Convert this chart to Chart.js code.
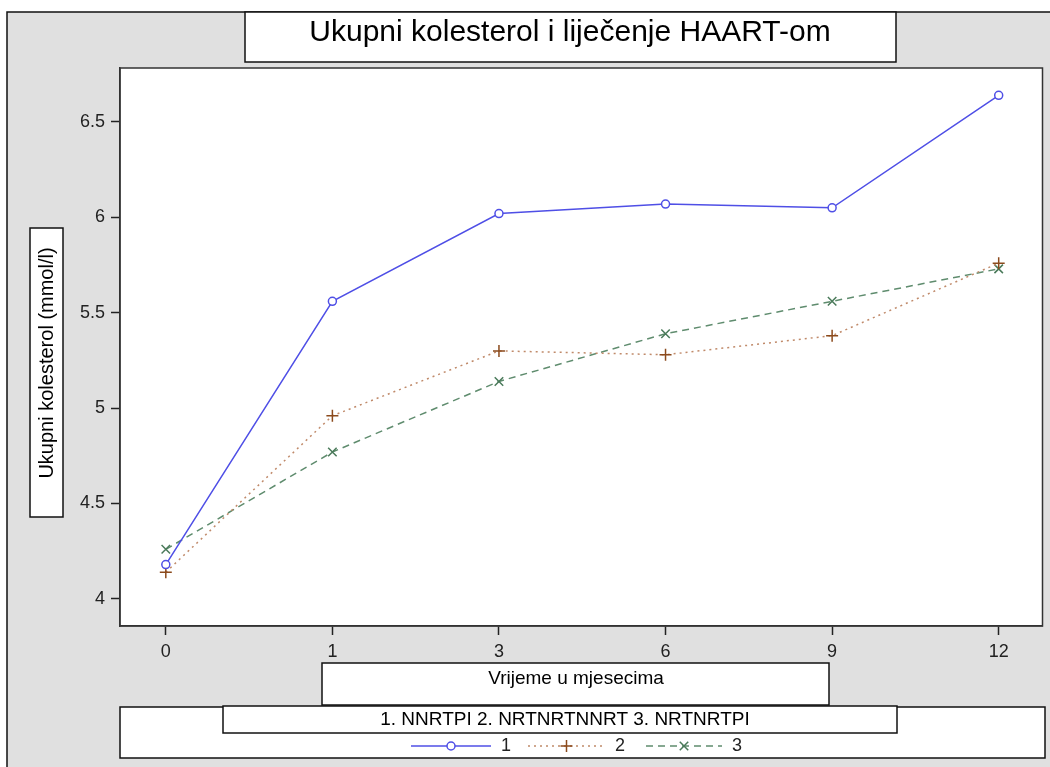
<!DOCTYPE html>
<html>
<head>
<meta charset="utf-8">
<script src="https://cdn.jsdelivr.net/npm/chart.js@4/dist/chart.umd.min.js"></script>
<style>
  html, body { margin: 0; padding: 0; background: #fff; }
  #wrap { width: 1050px; height: 767px; position: relative; }
</style>
</head>
<body>
<div id="wrap"><canvas id="chart" width="1050" height="767"></canvas></div>
<script>
const months = ["0", "1", "3", "6", "9", "12"];
const yTicks = [4, 4.5, 5, 5.5, 6, 6.5];
const group1 = [4.18, 5.56, 6.02, 6.07, 6.05, 6.64];
const group2 = [4.14, 4.96, 5.30, 5.28, 5.38, 5.76];
const group3 = [4.26, 4.77, 5.14, 5.39, 5.56, 5.73];
const groupNames = ["1", "2", "3"];

const font = "'Liberation Sans', Arial, sans-serif";
const blue = "#4f4fe6";
const brown = "#c08a6a";
const brownMark = "#8b4a1c";
const green = "#5f8c6e";
const greenMark = "#4a7a5a";

const toPoints = (arr) => arr.map((v, i) => ({ x: i, y: v }));

function box(ctx, x, y, w, h) {
  ctx.save();
  ctx.fillStyle = "#fff";
  ctx.fillRect(x, y, w, h);
  ctx.strokeStyle = "#111";
  ctx.lineWidth = 1.5;
  ctx.strokeRect(x, y, w, h);
  ctx.restore();
}

const decor = {
  id: "decor",
  beforeDraw(chart) {
    const ctx = chart.ctx;
    const a = chart.chartArea;
    ctx.save();
    ctx.fillStyle = "#fff";
    ctx.fillRect(0, 0, 1050, 767);
    ctx.fillStyle = "#e0e0e0";
    ctx.fillRect(7, 12, 1060, 770);
    ctx.strokeStyle = "#111";
    ctx.lineWidth = 1.5;
    ctx.strokeRect(7, 12, 1060, 770);
    ctx.fillStyle = "#fff";
    ctx.fillRect(a.left, a.top, a.right - a.left, a.bottom - a.top);
    ctx.restore();
  },
  afterDraw(chart) {
    const ctx = chart.ctx;
    const a = chart.chartArea;
    ctx.save();
    ctx.strokeStyle = "#333";
    ctx.lineWidth = 1.5;
    ctx.strokeRect(a.left, a.top, a.right - a.left, a.bottom - a.top);

    // title
    box(ctx, 245, 12, 651, 50);
    ctx.fillStyle = "#000";
    ctx.textAlign = "center";
    ctx.textBaseline = "middle";
    ctx.font = "30px " + font;
    ctx.fillText("Ukupni kolesterol i liječenje HAART-om", 570, 33);

    // y axis title
    box(ctx, 30, 228, 33, 289);
    ctx.save();
    ctx.translate(47, 363);
    ctx.rotate(-Math.PI / 2);
    ctx.font = "20px " + font;
    ctx.fillText("Ukupni kolesterol (mmol/l)", 0, 0);
    ctx.restore();

    // x axis title
    box(ctx, 322, 663, 507, 42);
    ctx.font = "19px " + font;
    ctx.fillText("Vrijeme u mjesecima", 576, 679);

    // legend
    box(ctx, 120, 707, 925, 51);
    box(ctx, 223, 706, 674, 27);
    ctx.font = "19px " + font;
    ctx.fillText("1. NNRTPI 2. NRTNRTNNRT 3. NRTNRTPI", 565, 720);

    const ly = 746;
    const items = [
      { x0: 411, x1: 491, color: blue, mark: blue, dash: [], style: "circle" },
      { x0: 528, x1: 605, color: brown, mark: brownMark, dash: [2, 4], style: "cross" },
      { x0: 646, x1: 722, color: green, mark: greenMark, dash: [7, 5], style: "crossRot" },
    ];
    items.forEach((it, i) => {
      ctx.save();
      ctx.strokeStyle = it.color;
      ctx.lineWidth = 1.5;
      ctx.setLineDash(it.dash);
      ctx.beginPath();
      ctx.moveTo(it.x0, ly);
      ctx.lineTo(it.x1, ly);
      ctx.stroke();
      ctx.restore();
      ctx.save();
      ctx.strokeStyle = it.mark;
      ctx.fillStyle = "#fff";
      ctx.lineWidth = 1.5;
      Chart.helpers.drawPoint(ctx, {
        pointStyle: it.style,
        radius: it.style === "circle" ? 4 : 6,
        borderWidth: 1.5,
      }, (it.x0 + it.x1) / 2, ly);
      ctx.restore();
      ctx.fillStyle = "#222";
      ctx.font = "18px " + font;
      ctx.fillText(groupNames[i], it.x1 + 15, ly);
    });
    ctx.restore();
  },
};

new Chart(document.getElementById("chart"), {
  type: "line",
  data: {
    datasets: [
      {
        label: groupNames[0],
        data: toPoints(group1),
        borderColor: blue,
        borderWidth: 1.5,
        pointStyle: "circle",
        pointRadius: 4,
        pointBorderColor: blue,
        pointBackgroundColor: "#fff",
        pointBorderWidth: 1.5,
      },
      {
        label: groupNames[1],
        data: toPoints(group2),
        borderColor: brown,
        borderWidth: 1.5,
        borderDash: [2, 4],
        pointStyle: "cross",
        pointRadius: 6,
        pointBorderColor: brownMark,
        pointBorderWidth: 1.5,
      },
      {
        label: groupNames[2],
        data: toPoints(group3),
        borderColor: green,
        borderWidth: 1.5,
        borderDash: [7, 5],
        pointStyle: "crossRot",
        pointRadius: 6,
        pointBorderColor: greenMark,
        pointBorderWidth: 1.5,
      },
    ],
  },
  options: {
    responsive: false,
    animation: false,
    layout: { padding: { left: 60, top: 68, right: 5, bottom: 101 } },
    plugins: { legend: { display: false }, tooltip: { enabled: false } },
    scales: {
      x: {
        type: "linear",
        min: -0.275,
        max: 5.263,
        afterFit: (s) => { s.height = 40; },
        afterBuildTicks: (s) => { s.ticks = months.map((m, i) => ({ value: i })); },
        ticks: {
          callback: (v) => months[v],
          color: "#222",
          font: { family: font, size: 18 },
          padding: 6,
          maxRotation: 0,
        },
        grid: { drawOnChartArea: false, drawTicks: true, tickLength: 9, tickColor: "#222", tickWidth: 1.5 },
        border: { display: true, color: "#333", width: 1.5 },
      },
      y: {
        min: 3.858,
        max: 6.783,
        afterFit: (s) => { s.width = 60; },
        afterBuildTicks: (s) => { s.ticks = yTicks.map((v) => ({ value: v })); },
        ticks: {
          callback: (v) => String(v),
          color: "#222",
          font: { family: font, size: 18 },
          padding: 6,
        },
        grid: { drawOnChartArea: false, drawTicks: true, tickLength: 9, tickColor: "#222", tickWidth: 1.5 },
        border: { display: true, color: "#333", width: 1.5 },
      },
    },
  },
  plugins: [decor],
});
</script>
</body>
</html>
